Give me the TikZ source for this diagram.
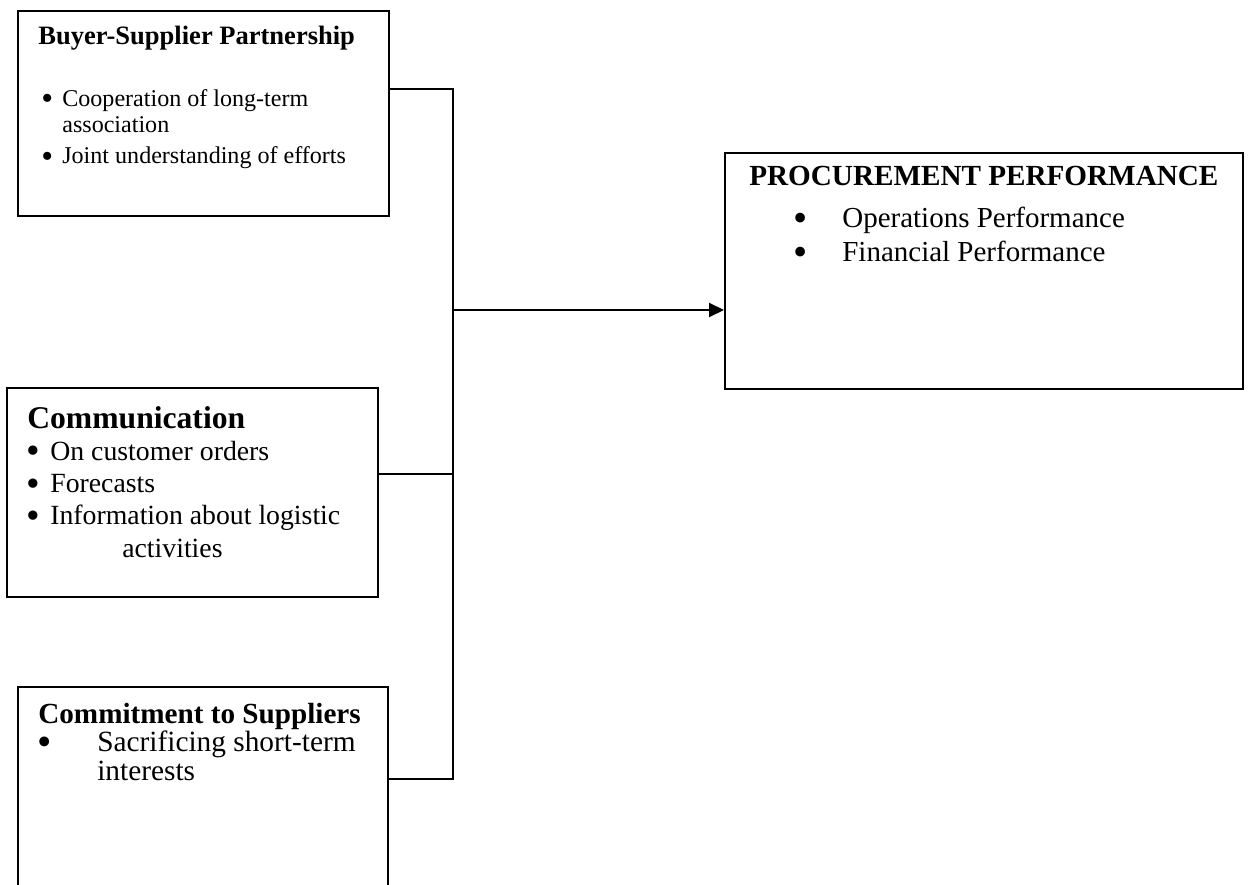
\documentclass[tikz,border=0pt]{standalone}
\usepackage{fontspec}
\setmainfont{Liberation Serif}
\usepackage{tikz}
\usetikzlibrary{arrows.meta}
\tikzset{blk/.style={draw,line width=1.1pt,anchor=north west,inner sep=0pt},
         txt/.style={anchor=base west,inner sep=0pt,align=left},
         wire/.style={line width=1.1pt}}
\newcommand{\bul}[1]{\makebox[#1][l]{\raisebox{-0.3ex}[0pt][0pt]{\scalebox{1.4}{\textbullet}}}}
\newcommand{\fsz}[2]{\fontsize{#1}{#2}\selectfont}

\begin{document}
\begin{tikzpicture}[x=0.02cm,y=-0.02cm,>={Triangle[length=0.3cm,width=0.28cm]}]
    \clip (0,0) rectangle (1248,885);
    % boxes
    \node[blk,minimum width=7.42cm,minimum height=4.10cm] (buyer) at (17,10) {};
    \node[blk,minimum width=7.42cm,minimum height=4.18cm] (comm) at (6,387) {};
    \node[blk,minimum width=7.40cm,minimum height=4.40cm] (commit) at (17,686) {};
    \node[blk,minimum width=10.36cm,minimum height=4.72cm] (proc) at (724,152) {};

    % texts (lists sit on the baseline of their last line)
    \node[txt,font=\fsz{15.1}{16}\bfseries] (buyerhd) at (38,45) {Buyer-Supplier Partnership};
    \node[txt,font=\fsz{13.7}{14.8}] (buyerlst) at (41,164)
        {\bul{0.42cm}Cooperation of long-term\\ \hspace*{0.42cm}association\\[3.4pt]
         \bul{0.42cm}Joint understanding of efforts};
    \node[txt,font=\fsz{18}{19}\bfseries] (commhd) at (27,428) {Communication};
    \node[txt,font=\fsz{15.8}{18.4}] (commlst) at (26,557)
        {\bul{0.48cm}On customer orders\\ \bul{0.48cm}Forecasts\\
         \bul{0.48cm}Information about logistic\\ \hspace*{1.92cm}activities};
    \node[txt,font=\fsz{16.6}{18}\bfseries] (commithd) at (38,723) {Commitment to Suppliers};
    \node[txt,font=\fsz{16.7}{16.5}] (commitlst) at (37,780)
        {\bul{1.20cm}Sacrificing short-term\\ \hspace*{1.20cm}interests};
    \node[txt,font=\fsz{16.6}{18}\bfseries] (prochd) at (749,186) {PROCUREMENT PERFORMANCE};
    \node[txt,font=\fsz{16.5}{19.9}] (proclst) at (793,262)
        {\bul{0.98cm}Operations Performance\\ \bul{0.98cm}Financial Performance};

    % links
    \coordinate (j1) at (453,89);
    \coordinate (j2) at (453,474);
    \coordinate (j3) at (453,779);
    \coordinate (jm) at (453,310);
    \draw[wire] (buyer.east |- j1) -- (j1) -- (j3) -- (commit.east |- j3);
    \draw[wire] (comm.east |- j2) -- (j2);
    \draw[wire,->] (jm) -- (proc.west |- jm);
\end{tikzpicture}
\end{document}
